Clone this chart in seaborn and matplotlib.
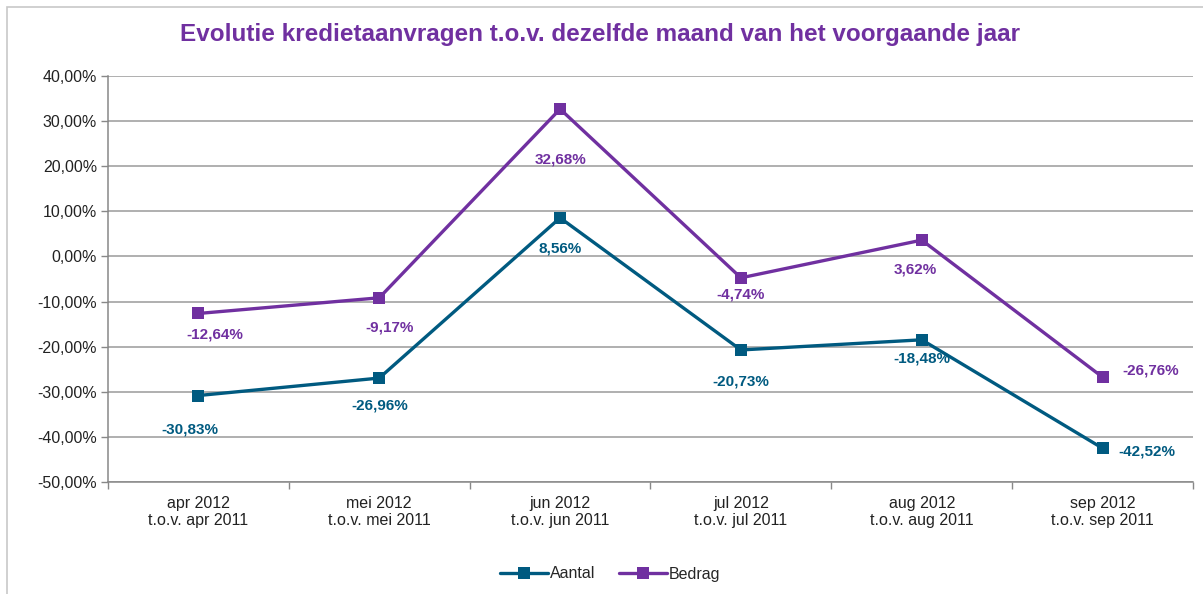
import matplotlib
matplotlib.use("Agg")
import matplotlib.pyplot as plt
from matplotlib.patches import Rectangle
import numpy as np
import pandas as pd
import seaborn as sns

maanden = ["apr 2012\nt.o.v. apr 2011", "mei 2012\nt.o.v. mei 2011",
           "jun 2012\nt.o.v. jun 2011", "jul 2012\nt.o.v. jul 2011",
           "aug 2012\nt.o.v. aug 2011", "sep 2012\nt.o.v. sep 2011"]
aantal = [-30.83, -26.96, 8.56, -20.73, -18.48, -42.52]
bedrag = [-12.64, -9.17, 32.68, -4.74, 3.62, -26.76]

kleur_aantal = "#005A80"
kleur_bedrag = "#7030A0"

# label offsets in pixels (dx, dy)
offs_aantal = [(-9, -34), (0, -27), (0, -31), (0, -32), (0, -19), (44, -3)]
offs_bedrag = [(16, -21), (10, -30), (0, -50), (0, -17), (-6, -29), (48, 7)]

df = pd.DataFrame({
    "maand": maanden * 2,
    "waarde": aantal + bedrag,
    "reeks": ["Aantal"] * len(aantal) + ["Bedrag"] * len(bedrag),
})

sns.set_theme(style="white")
plt.rcParams["font.family"] = ["Liberation Sans", "DejaVu Sans"]

fig = plt.figure(figsize=(12.03, 5.94), dpi=100)
ax = fig.add_axes([108 / 1203, 1 - 482 / 594, (1193 - 108) / 1203, (482 - 76) / 594])

# outer chart frame
fig.patches.append(Rectangle((7 / 1203, -0.05), 1.2, 1 - 7 / 594 + 0.05,
                             transform=fig.transFigure, fill=False,
                             edgecolor="#C8C8C8", linewidth=1.2, zorder=0))

sns.lineplot(data=df, x="maand", y="waarde", hue="reeks", ax=ax,
             palette={"Aantal": kleur_aantal, "Bedrag": kleur_bedrag},
             marker="s", markersize=8, markeredgewidth=0, linewidth=2.4,
             sort=False)

for reeks, waarden, offs, kl in [("Aantal", aantal, offs_aantal, kleur_aantal),
                                 ("Bedrag", bedrag, offs_bedrag, kleur_bedrag)]:
    for i, (v, (dx, dy)) in enumerate(zip(waarden, offs)):
        tekst = f"{v:.2f}%".replace(".", ",")
        ax.annotate(tekst, (i, v), xytext=(dx, dy), textcoords="offset pixels",
                    ha="center", va="center", fontsize=11,
                    fontweight="bold", color=kl)

ax.set_ylim(-50, 40)
ax.set_xlim(-0.5, len(maanden) - 0.5)
ax.set_yticks(np.arange(-50, 41, 10))
ax.set_yticklabels([f"{t:.2f}%".replace(".", ",") for t in np.arange(-50, 41, 10)],
                   fontsize=11.5, color="#222222")
ax.set_xticks(range(len(maanden)))
ax.set_xticklabels(maanden, fontsize=11.5, color="#222222", linespacing=1.2)
ax.set_xticks(np.arange(-0.5, len(maanden), 1), minor=True)
ax.tick_params(axis="x", which="major", length=0, pad=10)
ax.tick_params(axis="x", which="minor", length=5, color="#888888", width=1,
               direction="out", bottom=True)
ax.tick_params(axis="y", length=5, color="#888888", width=1, direction="out",
               left=True, pad=3)
ax.grid(axis="y", color="#9A9A9A", linewidth=1.1)
ax.set_axisbelow(True)
ax.set_xlabel("")
ax.set_ylabel("")
for s in ["top", "right"]:
    ax.spines[s].set_visible(False)
for s in ["left", "bottom"]:
    ax.spines[s].set_color("#888888")
    ax.spines[s].set_linewidth(1.1)

ax.legend_.remove()
handles, labels = ax.get_legend_handles_labels()
fig.legend(handles, labels, loc="center", bbox_to_anchor=(610 / 1203, 1 - 574 / 594),
           ncol=2, frameon=False, fontsize=11.5, handlelength=3.0,
           handletextpad=0.1, columnspacing=1.5)

fig.text(600 / 1203, 1 - 35 / 594,
         "Evolutie kredietaanvragen t.o.v. dezelfde maand van het voorgaande jaar",
         ha="center", va="center", fontsize=17.5, fontweight="bold",
         color=kleur_bedrag)

fig.savefig("out.png", dpi=100)
